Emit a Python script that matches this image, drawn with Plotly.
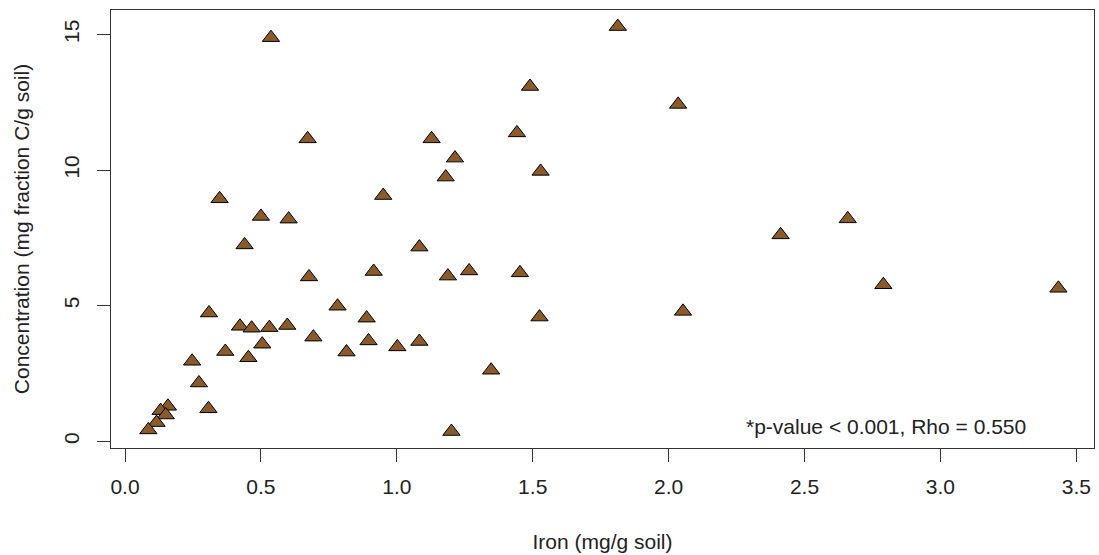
import plotly.graph_objects as go

iron = [0.537, 0.672, 1.128, 1.214, 1.180, 0.950, 0.348, 0.500, 0.602, 0.440,
        1.083, 0.677, 0.915, 1.188, 0.309, 0.782, 0.423, 0.466, 0.531, 0.597,
        0.889, 0.693, 0.505, 0.369, 0.896, 1.002, 1.083, 0.815, 0.454, 0.247,
        0.272, 0.307, 0.158, 0.131, 0.150, 0.116, 0.086, 1.201, 1.813, 1.490,
        2.035, 1.442, 1.529, 2.412, 1.266, 1.453, 1.525, 2.053, 1.347, 2.659,
        2.790, 3.434]
concentration = [14.88, 11.15, 11.15, 10.44, 9.74, 9.06, 8.94, 8.29, 8.19, 7.24,
                 7.16, 6.06, 6.26, 6.09, 4.73, 4.98, 4.24, 4.17, 4.19, 4.27,
                 4.54, 3.84, 3.58, 3.31, 3.70, 3.48, 3.68, 3.29, 3.08, 2.95,
                 2.15, 1.20, 1.29, 1.13, 0.97, 0.69, 0.42, 0.36, 15.29, 13.08,
                 12.42, 11.37, 9.95, 7.61, 6.28, 6.21, 4.58, 4.79, 2.62, 8.20,
                 5.77, 5.64]

x_ticks = [0.0, 0.5, 1.0, 1.5, 2.0, 2.5, 3.0, 3.5]
x_ticktext = ["0.0", "0.5", "1.0", "1.5", "2.0", "2.5", "3.0", "3.5"]
y_ticks = [0, 5, 10, 15]
y_ticktext = ["0", "5", "10", "15"]

annotation_text = "*p-value < 0.001, Rho = 0.550"
x_title = "Iron (mg/g soil)"
y_title = "Concentration (mg fraction C/g soil)"

FONT = "Liberation Sans, Arial, sans-serif"
LINE = "#333333"
TEXT = "#222222"

fig = go.Figure()
fig.add_trace(go.Scatter(
    x=iron, y=concentration, mode="markers",
    marker=dict(symbol="triangle-up", size=15, color="#8B5A2B",
                line=dict(color="black", width=1)),
    showlegend=False, hoverinfo="x+y",
))

fig.add_annotation(
    x=2.80, y=0.56, xref="x", yref="y", text=annotation_text,
    showarrow=False, xanchor="center", yanchor="middle",
    font=dict(family=FONT, size=21, color=TEXT),
)

fig.update_layout(
    width=1099, height=555,
    margin=dict(l=111, r=5, t=10, b=107),
    paper_bgcolor="white", plot_bgcolor="white",
    font=dict(family=FONT, size=21, color=TEXT),
    xaxis=dict(
        range=[-0.0515, 3.565], tickvals=x_ticks, ticktext=x_ticktext,
        showline=True, mirror=True, linecolor=LINE, linewidth=1,
        ticks="outside", ticklen=13, tickcolor=LINE, tickwidth=1,
        showgrid=False, zeroline=False, ticklabelstandoff=7,
        automargin=False,
        title=dict(text=x_title, standoff=37, font=dict(size=21, color=TEXT)),
    ),
    yaxis=dict(
        range=[-0.247, 15.9], tickvals=y_ticks, ticktext=y_ticktext,
        tickangle=-90,
        showline=True, mirror=True, linecolor=LINE, linewidth=1,
        ticks="outside", ticklen=13, tickcolor=LINE, tickwidth=1,
        showgrid=False, zeroline=False, ticklabelstandoff=10,
        automargin=False,
        title=dict(text=y_title, standoff=24, font=dict(size=21, color=TEXT)),
    ),
)

fig.write_html(
    "out.html",
    config={"displayModeBar": False},
    post_script="document.body.style.margin='0';document.body.style.overflow='hidden';",
)
